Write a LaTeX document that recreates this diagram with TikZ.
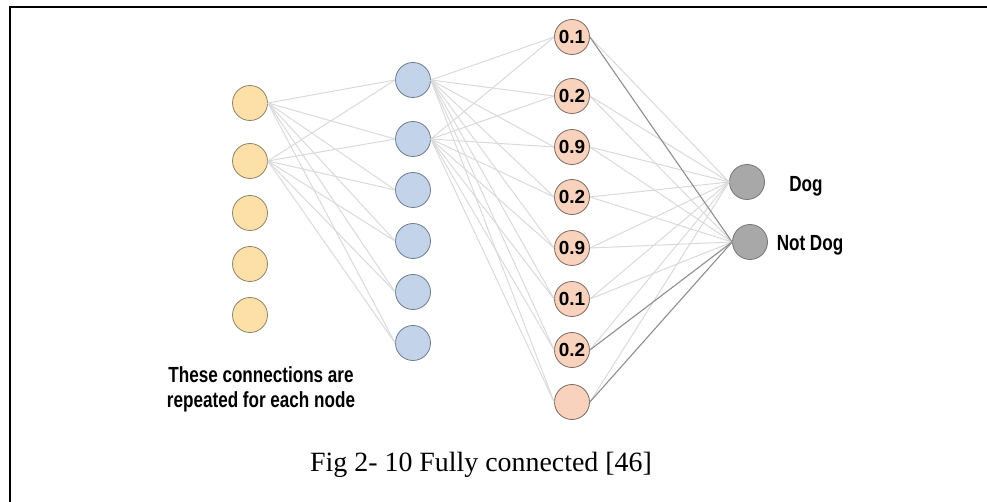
\documentclass[tikz,border=0pt]{standalone}
\usepackage{fontspec}
\setmainfont{Liberation Serif}
\newfontfamily\narrowsans[FakeStretch=0.78]{Liberation Sans}
\newfontfamily\numsans{Liberation Sans}
\definecolor{yfill}{HTML}{FDE0A8}
\definecolor{ydraw}{HTML}{8C8468}
\definecolor{bfill}{HTML}{C3D4EA}
\definecolor{bdraw}{HTML}{6E7B8C}
\definecolor{ofill}{HTML}{F8D2BC}
\definecolor{odraw}{HTML}{7A6A60}
\definecolor{gfill}{HTML}{A8A8A8}
\definecolor{gdraw}{HTML}{767676}
\definecolor{linklight}{HTML}{DADADA}
\definecolor{linkdark}{HTML}{8E8E8E}
\tikzset{
  neuron/.style={circle, minimum size=35bp, inner sep=0pt, line width=0.8bp},
  ynode/.style={neuron, fill=yfill, draw=ydraw},
  bnode/.style={neuron, fill=bfill, draw=bdraw},
  onode/.style={neuron, fill=ofill, draw=odraw, font=\numsans\bfseries\fontsize{19}{19}\selectfont},
  gnode/.style={neuron, fill=gfill, draw=gdraw},
  link/.style={draw=linklight, line width=1bp},
  darklink/.style={draw=linkdark, line width=1.1bp},
  lbl/.style={font=\narrowsans\bfseries\fontsize{22}{25}\selectfont, inner sep=0pt},
  frameline/.style={line width=2bp, draw=black}
}
\begin{document}
\begin{tikzpicture}[x=1bp, y=-1bp]
\useasboundingbox (0,0) rectangle (987,502);
\coordinate (fa) at (10,502);
\coordinate (fb) at (10,7);
\coordinate (fc) at (987,7);
\draw[frameline] (fa) -- (fb) -- (fc);
% input layer
\foreach \i/\y in {1/103,2/161,3/213,4/264,5/315}
  \node[ynode] (y\i) at (250,\y) {};
% hidden layer
\foreach \i/\y in {1/80,2/139,3/190,4/241,5/292,6/343}
  \node[bnode] (b\i) at (413,\y) {};
% third layer
\foreach \i/\y/\t in {1/37/0.1,2/96/0.2,3/147/0.9,4/197/0.2,5/248/0.9,6/299/0.1,7/350/0.2,8/402/{}}
  \node[onode] (o\i) at (572,\y) {\t};
% output layer
\node[gnode] (g1) at (747,182) {};
\node[gnode] (g2) at (750,242) {};
\node[lbl] (dog) at (806,186) {Dog};
\node[lbl] (notdog) at (810,245) {Not Dog};
% connections
\foreach \i in {1,2}
  \foreach \j in {1,...,6}
    \draw[link] (y\i.east) -- (b\j.west);
\foreach \i in {1,2}
  \foreach \j in {1,...,8}
    \draw[link] (b\i.east) -- (o\j.west);
\foreach \i in {1,...,8}
  \draw[link] (o\i.east) -- (g1.west);
\foreach \i in {2,...,6}
  \draw[link] (o\i.east) -- (g2.west);
\foreach \i in {1,7,8}
  \draw[darklink] (o\i.east) -- (g2.west);
\node[lbl, align=center] (note) at (261,389) {These connections are\\repeated for each node};
\node[font=\fontsize{28}{28}\selectfont, inner sep=0pt] (cap) at (481,465) {Fig 2- 10 Fully connected [46]};
\end{tikzpicture}
\end{document}
